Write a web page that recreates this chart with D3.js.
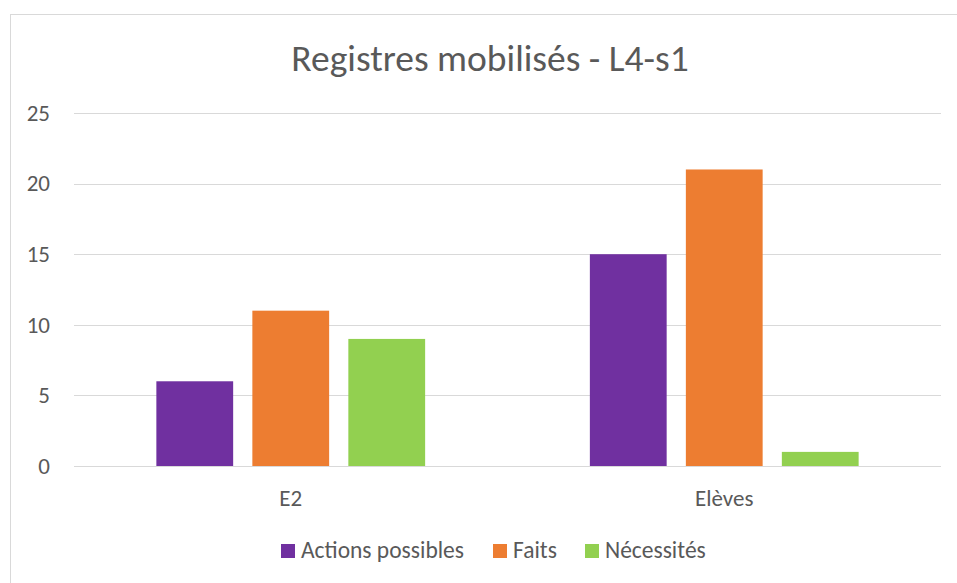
<!DOCTYPE html>
<html>
<head>
<meta charset="utf-8">
<script src="https://cdn.jsdelivr.net/npm/d3@7"></script>
<style>
  html, body { margin: 0; padding: 0; background: #fff; }
  svg text { font-family: Calibri, Carlito, Lato, sans-serif; fill: #595959; }
</style>
</head>
<body>
<svg id="chart" width="957" height="583"></svg>
<script>
// Chart data
const categories = ["E2", "Elèves"];
const seriesNames = ["Actions possibles", "Faits", "Nécessités"];
const seriesColors = ["#7030A0", "#ED7D31", "#92D050"];
const actionsPossibles = [6, 15];
const faits = [11, 21];
const necessites = [9, 1];
const yTicks = [0, 5, 10, 15, 20, 25];
const titleText = "Registres mobilisés - L4-s1";

const seriesValues = [actionsPossibles, faits, necessites];

const svg = d3.select("#chart");

// Outer chart frame
svg.append("rect")
  .attr("x", 10.5).attr("y", 14.5)
  .attr("width", 960).attr("height", 600)
  .attr("fill", "#fff")
  .attr("stroke", "#d9d9d9").attr("stroke-width", 1);

const plot = { left: 74, right: 941, top: 113, bottom: 466 };

const y = d3.scaleLinear().domain([0, 25]).range([plot.bottom, plot.top]);
const x0 = d3.scaleBand().domain(categories).range([plot.left, plot.right]).padding(0);
const groupPad = x0.step() * 0.19;
const x1 = d3.scaleBand().domain(d3.range(seriesNames.length))
  .range([groupPad, x0.step() - groupPad])
  .paddingInner(0.2).paddingOuter(0);

// Gridlines
svg.append("g")
  .selectAll("line")
  .data(yTicks)
  .join("line")
  .attr("x1", plot.left).attr("x2", plot.right)
  .attr("y1", d => Math.round(y(d)) + 0.5).attr("y2", d => Math.round(y(d)) + 0.5)
  .attr("stroke", "#d9d9d9").attr("stroke-width", 1);

// Y-axis labels
const yAxis = d3.axisLeft(y).tickValues(yTicks).tickSize(0).tickPadding(0);
const yg = svg.append("g").attr("transform", `translate(50,0)`).call(yAxis);
yg.select(".domain").remove();
yg.selectAll("text")
  .style("font-size", "23px")
  .attr("fill", "#595959");

// Bars
const groups = svg.append("g")
  .selectAll("g")
  .data(categories)
  .join("g")
  .attr("transform", d => `translate(${x0(d)},0)`);

groups.selectAll("rect")
  .data((d, i) => seriesValues.map((vals, s) => ({ s, v: vals[i] })))
  .join("rect")
  .attr("x", d => x1(d.s))
  .attr("width", x1.bandwidth())
  .attr("y", d => y(d.v))
  .attr("height", d => y(0) - y(d.v))
  .attr("fill", d => seriesColors[d.s]);

// Category axis
const xAxis = d3.axisBottom(x0).tickSize(0).tickPadding(0);
const xg = svg.append("g").attr("transform", `translate(0,${plot.bottom + 24})`).call(xAxis);
xg.select(".domain").remove();
xg.selectAll("text")
  .style("font-size", "23px")
  .attr("fill", "#595959")
  .attr("dy", "0.71em");

// Title
svg.append("text")
  .attr("x", 490).attr("y", 71)
  .attr("text-anchor", "middle")
  .style("font-size", "37.5px")
  .text(titleText);

// Legend
const legendItems = [
  { name: seriesNames[0], x: 281 },
  { name: seriesNames[1], x: 493 },
  { name: seriesNames[2], x: 585 }
];
const legend = svg.append("g");
legendItems.forEach((item, i) => {
  legend.append("rect")
    .attr("x", item.x).attr("y", 544)
    .attr("width", 14).attr("height", 14)
    .attr("fill", seriesColors[i]);
  legend.append("text")
    .attr("x", item.x + 20).attr("y", 558)
    .style("font-size", "23.5px")
    .text(item.name);
});
</script>
</body>
</html>
